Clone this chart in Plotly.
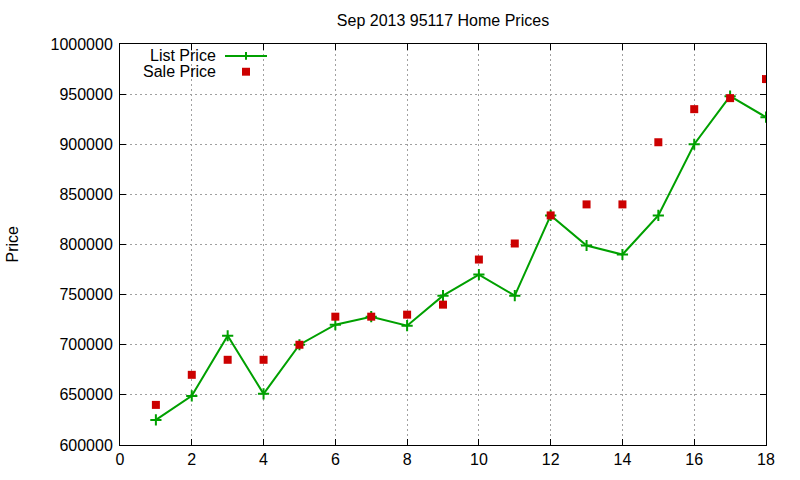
import plotly.graph_objects as go

months = list(range(1, 19))
list_price = [625000, 649000, 709000, 651000, 700000, 720000, 728000, 719000, 749000,
              770000, 749000, 829000, 799000, 790000, 829000, 900000, 948000, 927000]
sale_price = [640000, 670000, 685000, 685000, 700000, 728000, 728000, 730000, 740000,
              785000, 801000, 829000, 840000, 840000, 902000, 935000, 946000, 965000]
title_text = "Sep 2013 95117 Home Prices"
y_label = "Price"
x_ticks = list(range(0, 19, 2))
y_ticks = list(range(600000, 1000001, 50000))

green = "#00a000"
red = "#cc0000"
FONT = "Liberation Sans, Arial, sans-serif"
FS = 16

fig = go.Figure()
fig.add_trace(go.Scatter(x=months, y=list_price, mode="lines+markers", name="List Price",
                         line=dict(color=green, width=2),
                         marker=dict(symbol="cross-thin", size=8, line=dict(color=green, width=2))))
fig.add_trace(go.Scatter(x=months, y=sale_price, mode="markers", name="Sale Price",
                         marker=dict(symbol="square", size=8, color=red)))

axis_common = dict(showline=True, linecolor="black", linewidth=1, mirror="ticks",
                   ticks="inside", ticklen=6, tickcolor="black",
                   showgrid=True, gridcolor="#a0a0a0", griddash="2px,3px", gridwidth=1,
                   zeroline=False, tickfont=dict(family=FONT, size=FS, color="black"))

fig.update_xaxes(range=[0, 18], tickvals=x_ticks, **axis_common)
fig.update_yaxes(range=[600000, 1000000], tickvals=y_ticks, ticktext=[str(v) for v in y_ticks],
                 ticklabelstandoff=3, **axis_common)

TOP, BOT, LEFT, RIGHT = 44, 449, 120, 766
fig.update_layout(
    width=800, height=480,
    margin=dict(l=LEFT, r=800 - RIGHT, t=TOP, b=480 - BOT),
    plot_bgcolor="white", paper_bgcolor="white",
    showlegend=False,
    title=dict(text=title_text, x=(LEFT + RIGHT) / 2 / 800, xanchor="center", y=1 - 20 / 480,
               yanchor="middle", font=dict(family=FONT, size=FS, color="black")),
    font=dict(family=FONT, size=FS, color="black"),
)

W = RIGHT - LEFT
H = BOT - TOP

# y-axis label
fig.add_annotation(text=y_label, xref="paper", yref="paper", x=-(LEFT - 12) / W, y=0.5,
                   textangle=-90, showarrow=False, xanchor="center", yanchor="middle",
                   font=dict(family=FONT, size=FS, color="black"))

# legend (gnuplot style: text then key sample)
def px_x(p):
    return (p - LEFT) / W

def px_y(p):
    return (BOT - p) / H

leg = [("List Price", 56), ("Sale Price", 72)]
for txt, yy in leg:
    fig.add_annotation(text=txt, xref="paper", yref="paper", x=px_x(218), y=px_y(yy),
                       xanchor="right", yanchor="middle", showarrow=False,
                       font=dict(family=FONT, size=FS, color="black"))
# List price key
fig.add_shape(type="line", xref="paper", yref="paper", x0=px_x(225), x1=px_x(267),
              y0=px_y(56), y1=px_y(56), line=dict(color=green, width=2))
fig.add_shape(type="line", xref="paper", yref="paper", x0=px_x(246), x1=px_x(246),
              y0=px_y(52), y1=px_y(60), line=dict(color=green, width=2))
# Sale price key
fig.add_shape(type="rect", xref="paper", yref="paper", x0=px_x(242), x1=px_x(250),
              y0=px_y(68), y1=px_y(76), line=dict(width=0), fillcolor=red)

fig.write_html("out.html")
